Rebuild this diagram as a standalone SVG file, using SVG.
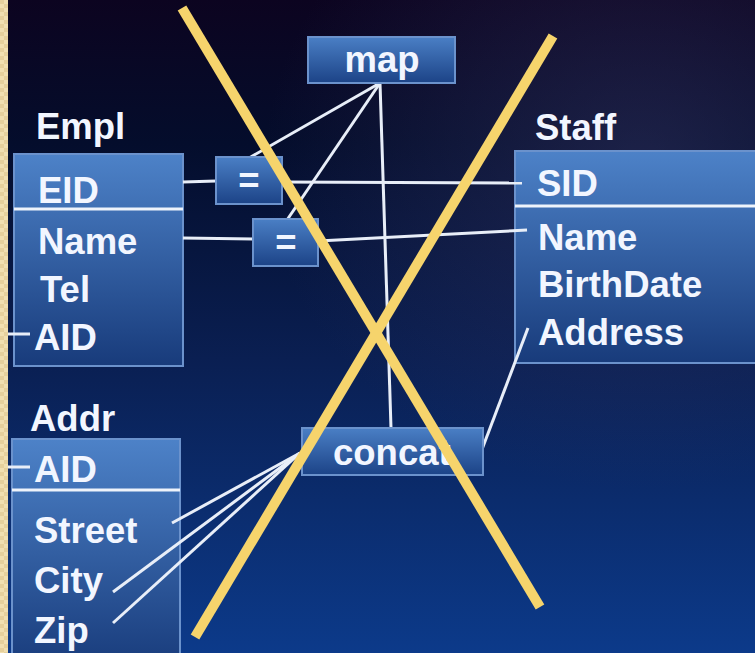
<svg xmlns="http://www.w3.org/2000/svg" width="755" height="653" viewBox="0 0 755 653">
<defs>
  <linearGradient id="bg" x1="0" y1="0" x2="0" y2="1">
    <stop offset="0" stop-color="#0c0420"/>
    <stop offset="0.22" stop-color="#040d2c"/>
    <stop offset="0.55" stop-color="#0a1f52"/>
    <stop offset="1" stop-color="#0c3a8a"/>
  </linearGradient>
  <radialGradient id="glow" cx="0.85" cy="0.25" r="0.5">
    <stop offset="0" stop-color="#3a3a6a" stop-opacity="0.45"/>
    <stop offset="1" stop-color="#3a3a6a" stop-opacity="0"/>
  </radialGradient>
  <linearGradient id="box" x1="0" y1="0" x2="0" y2="1">
    <stop offset="0" stop-color="#4d82c8"/>
    <stop offset="1" stop-color="#183b7b"/>
  </linearGradient>
  <linearGradient id="small" x1="0" y1="0" x2="0" y2="1">
    <stop offset="0" stop-color="#4a7fc5"/>
    <stop offset="1" stop-color="#1c4387"/>
  </linearGradient>
  <pattern id="check" width="8" height="8" patternUnits="userSpaceOnUse">
    <rect width="8" height="8" fill="#f1dfb0"/>
    <rect width="4" height="4" fill="#e6d09c"/>
    <rect x="4" y="4" width="4" height="4" fill="#e6d09c"/>
  </pattern>
  <style>
    .t{font-family:"Liberation Sans",Arial,sans-serif;font-weight:bold;font-size:36.5px;fill:#f2f6ff}
    .box{fill:url(#box);stroke:#6b92cc;stroke-width:2}
    .sbox{fill:url(#small);stroke:#6b92cc;stroke-width:2}
    .sep{stroke:#eef3fb;stroke-width:3}
    .c{stroke:#e8eef8;stroke-width:3;fill:none}
    .x{stroke:#f6d46c;stroke-width:10;stroke-linecap:butt}
  </style>
</defs>
<rect width="755" height="653" fill="url(#bg)"/>
<rect width="755" height="653" fill="url(#glow)"/>
<rect x="0" y="0" width="8" height="653" fill="url(#check)"/>

<g id="empl">
  <text class="t" x="36" y="139">Empl</text>
  <rect class="box" x="14" y="154" width="169" height="212"/>
  <line class="sep" x1="14" y1="209" x2="183" y2="209"/>
  <text class="t" x="38" y="203">EID</text>
  <text class="t" x="38" y="254">Name</text>
  <text class="t" x="40" y="302">Tel</text>
  <text class="t" x="34" y="350">AID</text>
</g>

<g id="addr">
  <text class="t" x="30" y="431">Addr</text>
  <rect class="box" x="12" y="439" width="168" height="230"/>
  <line class="sep" x1="12" y1="490" x2="180" y2="490"/>
  <text class="t" x="34" y="482">AID</text>
  <text class="t" x="34" y="543">Street</text>
  <text class="t" x="34" y="593">City</text>
  <text class="t" x="34" y="643">Zip</text>
</g>

<g id="staff">
  <text class="t" x="535" y="140">Staff</text>
  <rect class="box" x="515" y="151" width="250" height="212"/>
  <line class="sep" x1="515" y1="206" x2="755" y2="206"/>
  <text class="t" x="537" y="196">SID</text>
  <text class="t" x="538" y="250">Name</text>
  <text class="t" x="538" y="297">BirthDate</text>
  <text class="t" x="538" y="345">Address</text>
</g>

<g id="connectors">
  <line class="c" x1="8" y1="334" x2="30" y2="334"/>
  <line class="c" x1="8" y1="467" x2="30" y2="467"/>
  <line class="c" x1="183" y1="182" x2="216" y2="181"/>
  <line class="c" x1="282" y1="182" x2="522" y2="183"/>
  <line class="c" x1="183" y1="238" x2="253" y2="239"/>
  <line class="c" x1="318" y1="241" x2="527" y2="230"/>
  <line class="c" x1="380" y1="83" x2="249" y2="158"/>
  <line class="c" x1="380" y1="83" x2="287" y2="220"/>
  <line class="c" x1="380" y1="83" x2="391" y2="428"/>
  <line class="c" x1="528" y1="328" x2="481" y2="452"/>
  <line class="c" x1="300" y1="453" x2="172" y2="523"/>
  <line class="c" x1="300" y1="453" x2="113" y2="592"/>
  <line class="c" x1="300" y1="453" x2="113" y2="623"/>
</g>

<g id="map">
  <rect class="sbox" x="308" y="37" width="147" height="46"/>
  <text class="t" x="382" y="72" text-anchor="middle">map</text>
</g>

<g id="eq1">
  <rect class="sbox" x="216" y="157" width="66" height="47"/>
  <text class="t" x="249" y="193" text-anchor="middle">=</text>
</g>

<g id="eq2">
  <rect class="sbox" x="253" y="219" width="65" height="47"/>
  <text class="t" x="286" y="255" text-anchor="middle">=</text>
</g>

<g id="concat">
  <rect class="sbox" x="302" y="428" width="181" height="47"/>
  <text class="t" x="333" y="465">concat</text>
</g>

<g id="cross">
  <line class="x" x1="182" y1="8" x2="540" y2="607"/>
  <line class="x" x1="553" y1="36" x2="195" y2="637"/>
</g>
</svg>
